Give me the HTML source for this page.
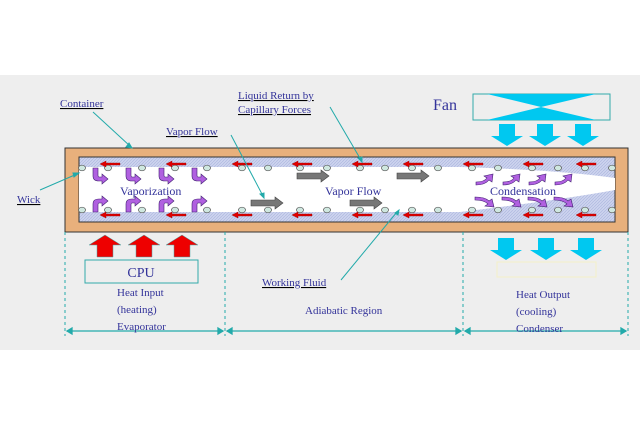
<!DOCTYPE html>
<html><head><meta charset="utf-8"><style>
body{margin:0;width:640px;height:426px;overflow:hidden;background:#fff}
svg{display:block}
text{font-family:"Liberation Serif",serif;fill:#33339a}
</style></head><body>
<svg width="640" height="426" viewBox="0 0 640 426" xmlns="http://www.w3.org/2000/svg">
<defs>
<pattern id="wk" width="3" height="3" patternUnits="userSpaceOnUse"><rect width="3" height="3" fill="#ccd3ee"/><path d="M0 3L3 0" stroke="#aab4de" stroke-width="0.6"/></pattern>
<g id="ra"><path d="M0 0l6 -3v2h14v2h-14v2z" fill="#e00000" stroke="#900" stroke-width="0.4"/></g>
<g id="ga"><path d="M0 -3h24v-3l8 6l-8 6v-3h-24z" fill="#777" stroke="#444" stroke-width="0.6"/></g>
<g id="dot"><ellipse cx="0" cy="0" rx="3.5" ry="2.8" fill="#cfe8e0" stroke="#555" stroke-width="0.7"/></g>
<g id="pd"><path d="M-6 -8v8q0 5 6 5h3v3l6 -5l-6 -5v3h-3q-1 0 -1 -2v-7z" fill="#b060e0" stroke="#402070" stroke-width="0.6"/></g>
<g id="pu"><path d="M-6 8v-8q0 -5 6 -5h3v-3l6 5l-6 5v-3h-3q-1 0 -1 2v7z" fill="#b060e0" stroke="#402070" stroke-width="0.6"/></g>
<g id="cu"><path d="M0 6q8 0 11 -4l-3 -2l9 -2l-1 8l-3 -2q-4 5 -13 5z" fill="#b060e0" stroke="#402070" stroke-width="0.6"/></g>
<g id="cd"><path d="M0 0q9 0 13 4l-3 2l9 1l-2 -8l-3 2q-4 -4 -14 -4z" fill="#b060e0" stroke="#402070" stroke-width="0.6"/></g>
<g id="bd"><path d="M-8 0h16v12h8l-16 10l-16 -10h8z" fill="#00c8f0"/></g>
<g id="rd"><path d="M-8 20h16v-12h8l-16 -10l-16 10h8z" fill="#ee0000" stroke="#4aa" stroke-width="0.5"/></g>
</defs>
<rect x="0" y="75" width="640" height="275" fill="#eeeeee"/>
<rect x="65" y="148" width="563" height="84" fill="#e8b07c" stroke="#333" stroke-width="1"/>
<rect x="79" y="157" width="536" height="65" fill="url(#wk)" stroke="#333" stroke-width="1"/>
<path d="M79 167H460Q560 170 615 178V190Q560 200 460 212H79z" fill="#fff"/>
<g>
<use href="#dot" x="82" y="168"/><use href="#dot" x="108" y="168"/><use href="#dot" x="142" y="168"/><use href="#dot" x="175" y="168"/><use href="#dot" x="207" y="168"/><use href="#dot" x="242" y="168"/><use href="#dot" x="268" y="168"/><use href="#dot" x="300" y="168"/><use href="#dot" x="327" y="168"/><use href="#dot" x="360" y="168"/><use href="#dot" x="385" y="168"/><use href="#dot" x="412" y="168"/><use href="#dot" x="438" y="168"/><use href="#dot" x="472" y="168"/><use href="#dot" x="498" y="168"/><use href="#dot" x="532" y="168"/><use href="#dot" x="558" y="168"/><use href="#dot" x="585" y="168"/><use href="#dot" x="612" y="168"/>
<use href="#dot" x="82" y="210"/><use href="#dot" x="108" y="210"/><use href="#dot" x="142" y="210"/><use href="#dot" x="175" y="210"/><use href="#dot" x="207" y="210"/><use href="#dot" x="242" y="210"/><use href="#dot" x="268" y="210"/><use href="#dot" x="300" y="210"/><use href="#dot" x="327" y="210"/><use href="#dot" x="360" y="210"/><use href="#dot" x="385" y="210"/><use href="#dot" x="412" y="210"/><use href="#dot" x="438" y="210"/><use href="#dot" x="472" y="210"/><use href="#dot" x="498" y="210"/><use href="#dot" x="532" y="210"/><use href="#dot" x="558" y="210"/><use href="#dot" x="585" y="210"/><use href="#dot" x="612" y="210"/>
</g>
<g>
<use href="#ra" x="100" y="164"/><use href="#ra" x="166" y="164"/><use href="#ra" x="232" y="164"/><use href="#ra" x="292" y="164"/><use href="#ra" x="352" y="164"/><use href="#ra" x="403" y="164"/><use href="#ra" x="463" y="164"/><use href="#ra" x="523" y="164"/><use href="#ra" x="576" y="164"/>
<use href="#ra" x="100" y="215"/><use href="#ra" x="166" y="215"/><use href="#ra" x="232" y="215"/><use href="#ra" x="292" y="215"/><use href="#ra" x="352" y="215"/><use href="#ra" x="403" y="215"/><use href="#ra" x="463" y="215"/><use href="#ra" x="523" y="215"/><use href="#ra" x="576" y="215"/>
</g>
<use href="#ga" x="297" y="176"/><use href="#ga" x="397" y="176"/><use href="#ga" x="251" y="203"/><use href="#ga" x="350" y="203"/>
<use href="#pd" x="99" y="176"/><use href="#pd" x="132" y="176"/><use href="#pd" x="165" y="176"/><use href="#pd" x="198" y="176"/>
<use href="#pu" x="99" y="204"/><use href="#pu" x="132" y="204"/><use href="#pu" x="165" y="204"/><use href="#pu" x="198" y="204"/>
<use href="#cu" x="476" y="176"/><use href="#cu" x="503" y="176"/><use href="#cu" x="529" y="176"/><use href="#cu" x="555" y="176"/>
<use href="#cd" x="475" y="200"/><use href="#cd" x="502" y="200"/><use href="#cd" x="528" y="200"/><use href="#cd" x="554" y="200"/>
<text x="120" y="195" font-size="12">Vaporization</text>
<text x="325" y="195" font-size="12">Vapor Flow</text>
<text x="490" y="195" font-size="12">Condensation</text>
<rect x="473" y="94" width="137" height="26" fill="#eee" stroke="#3aa" stroke-width="1"/>
<path d="M487 94H596L541 107zM487 120H596L541 107z" fill="#00c8f0"/>
<text x="433" y="110" font-size="16">Fan</text>
<use href="#bd" x="507" y="124"/><use href="#bd" x="545" y="124"/><use href="#bd" x="583" y="124"/>
<use href="#bd" x="506" y="238"/><use href="#bd" x="546" y="238"/><use href="#bd" x="586" y="238"/>
<rect x="497" y="262" width="99" height="15" fill="none" stroke="#f4f0c8" stroke-width="1"/>
<use href="#rd" x="105" y="237"/><use href="#rd" x="144" y="237"/><use href="#rd" x="182" y="237"/>
<rect x="85" y="260" width="113" height="23" fill="#eee" stroke="#3aa" stroke-width="1"/>
<text x="141" y="277" font-size="14" text-anchor="middle">CPU</text>
<g stroke="#2aa" stroke-width="1" stroke-dasharray="3,3">
<line x1="65" y1="232" x2="65" y2="336"/><line x1="225" y1="232" x2="225" y2="336"/><line x1="463" y1="232" x2="463" y2="336"/><line x1="628" y1="232" x2="628" y2="336"/>
</g>
<g stroke="#2aa" stroke-width="1.3" fill="#2aa">
<line x1="67" y1="331" x2="223" y2="331"/><line x1="227" y1="331" x2="461" y2="331"/><line x1="465" y1="331" x2="626" y2="331"/>
<path d="M67 331l5 -3v6zM223 331l-5 -3v6zM227 331l5 -3v6zM461 331l-5 -3v6zM465 331l5 -3v6zM626 331l-5 -3v6z"/>
</g>
<g font-size="11">
<text x="117" y="296">Heat Input</text><text x="117" y="313">(heating)</text><text x="117" y="330">Evaporator</text>
<text x="305" y="314">Adiabatic Region</text>
<text x="516" y="298">Heat Output</text><text x="516" y="315">(cooling)</text><text x="516" y="332">Condenser</text>
</g>
<g font-size="11" text-decoration="underline">
<text x="60" y="107">Container</text>
<text x="17" y="203">Wick</text>
<text x="166" y="135">Vapor Flow</text>
<text x="238" y="99">Liquid Return by</text>
<text x="238" y="113">Capillary Forces</text>
<text x="262" y="286">Working Fluid</text>
</g>
<g stroke="#2aa" stroke-width="1" fill="#2aa">
<line x1="93" y1="112" x2="130" y2="146"/><path d="M132 148l-6 -1l3 -4z"/>
<line x1="40" y1="190" x2="77" y2="174"/><path d="M79 173l-5 4l-1 -4z"/>
<line x1="231" y1="135" x2="263" y2="196"/><path d="M264 198l-4 -4l4 -1z"/>
<line x1="330" y1="107" x2="361" y2="160"/><path d="M362 162l-4 -4l4 -1z"/>
<line x1="341" y1="280" x2="397" y2="212"/><path d="M399 210l-1 5l-3 -2z"/>
</g>
</svg>
</body></html>
